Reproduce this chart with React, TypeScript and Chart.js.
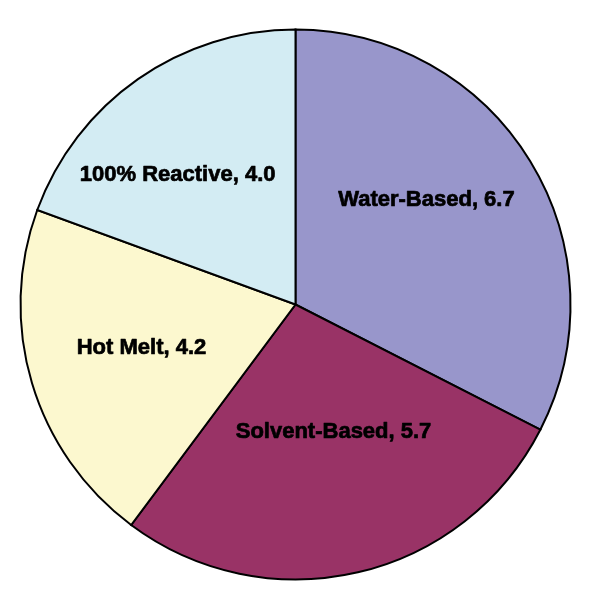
import React, { useEffect, useRef } from "react";
import { Chart, registerables } from "chart.js";

Chart.register(...registerables);

const categories = ["Water-Based", "Solvent-Based", "Hot Melt", "100% Reactive"];
const values = [6.7, 5.7, 4.2, 4.0];
const colors = ["#9896CB", "#993366", "#FCF8CF", "#D3ECF3"];

// label layout: radial fraction and angular offset (degrees) from slice mid-angle
const labelRadius = [0.609, 0.484, 0.582, 0.638];
const labelAngleOffset = [-7.1, -3.5, 0.8, -7.25];

const labelPlugin = {
  id: "sliceLabels",
  afterDatasetsDraw(chart: any) {
    const ctx = chart.ctx;
    const meta = chart.getDatasetMeta(0);
    ctx.save();
    ctx.font = "bold 22px 'Liberation Sans', Arial, sans-serif";
    ctx.fillStyle = "#000";
    ctx.strokeStyle = "#000";
    ctx.lineWidth = 0.7;
    ctx.lineJoin = "round";
    ctx.textAlign = "center";
    ctx.textBaseline = "middle";
    meta.data.forEach((arc: any, i: number) => {
      const p = arc.getProps(["x", "y", "startAngle", "endAngle", "outerRadius"], true);
      const mid = (p.startAngle + p.endAngle) / 2 + (labelAngleOffset[i] * Math.PI) / 180;
      const r = p.outerRadius * labelRadius[i];
      const x = p.x + Math.cos(mid) * r;
      const y = p.y + Math.sin(mid) * r;
      const text = `${categories[i]}, ${values[i].toFixed(1)}`;
      ctx.fillText(text, x, y);
      ctx.strokeText(text, x, y);
    });
    ctx.restore();
  },
};

export default function App() {
  const ref = useRef<HTMLCanvasElement | null>(null);
  useEffect(() => {
    if (!ref.current) return;
    const chart = new Chart(ref.current, {
      type: "pie",
      data: {
        labels: categories,
        datasets: [
          {
            data: values,
            backgroundColor: colors,
            borderColor: "#000000",
            borderWidth: 2,
            borderJoinStyle: "miter" as any,
          },
        ],
      },
      options: {
        responsive: false,
        animation: false,
        layout: { padding: { left: 19.5, right: 20.5, top: 28.5, bottom: 19.5 } },
        plugins: {
          legend: { display: false },
          tooltip: { enabled: false },
        },
      },
      plugins: [labelPlugin],
    });
    return () => chart.destroy();
  }, []);
  return (
    <div style={{ position: "fixed", left: 0, top: 0, width: 592, height: 600, background: "#fff" }}>
      <canvas ref={ref} width={592} height={600} style={{ display: "block" }} />
    </div>
  );
}
